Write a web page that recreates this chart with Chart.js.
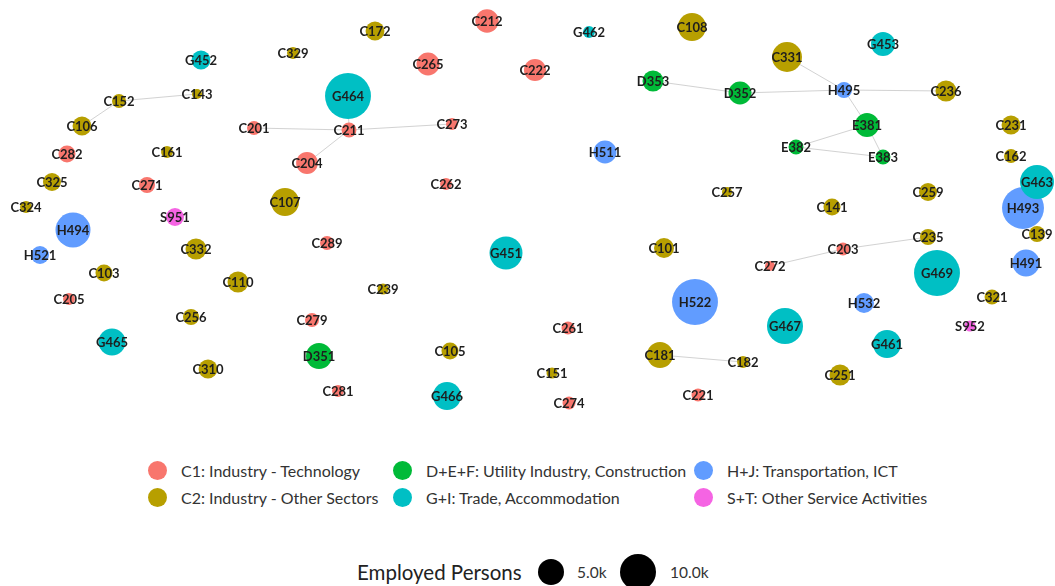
<!DOCTYPE html>
<html>
<head>
<meta charset="utf-8">
<script src="https://cdn.jsdelivr.net/npm/chart.js@4.4.1/dist/chart.umd.min.js"></script>
<style>
  html, body { margin: 0; padding: 0; background: #fff; }
  body { width: 1055px; height: 586px; position: relative; overflow: hidden; font-family: "Lato", "DejaVu Sans", sans-serif; }
  #wrap { position: absolute; left: 0; top: 0; width: 1055px; height: 430px; }
  .leg { position: absolute; font-size: 16px; color: #333; white-space: nowrap; line-height: 18px; }
  .dot { position: absolute; width: 19px; height: 19px; border-radius: 50%; }
  .sz { position: absolute; border-radius: 50%; background: #000; }
  .szt { position: absolute; font-size: 15.5px; color: #333; white-space: nowrap; }
</style>
</head>
<body>
<div id="wrap"><canvas id="c"></canvas></div>
<div id="legend"></div>
<script>
// ---- Data ----
const sectors = ["C1: Industry - Technology", "C2: Industry - Other Sectors", "D+E+F: Utility Industry, Construction", "G+I: Trade, Accommodation", "H+J: Transportation, ICT", "S+T: Other Service Activities"];
const sectorColors = ["#F8766D", "#B79F00", "#00BA38", "#00BFC4", "#619CFF", "#F564E3"];

const nodeIds = ["C212","C265","C222","C201","C211","C273","C204","C282","C271","C262","C289","C205","C279","C281","C261","C274","C221","C203","C272",
  "C329","C172","C152","C143","C106","C161","C325","C324","C107","C332","C103","C110","C256","C310","C239","C105","C151","C101","C181","C182","C251","C108","C331","C236","C231","C162","C257","C141","C259","C235","C139","C321",
  "D353","D352","E381","E382","E383","D351",
  "G452","G464","G462","G453","G463","G451","G465","G466","G467","G461","G469",
  "H494","H521","H511","H495","H493","H491","H522","H532",
  "S951","S952"];
const nodeSector = [0,0,0,0,0,0,0,0,0,0,0,0,0,0,0,0,0,0,0,
  1,1,1,1,1,1,1,1,1,1,1,1,1,1,1,1,1,1,1,1,1,1,1,1,1,1,1,1,1,1,1,1,
  2,2,2,2,2,2,
  3,3,3,3,3,3,3,3,3,3,3,
  4,4,4,4,4,4,4,4,
  5,5];
const layoutX = [487,428,535,254,349,452,307,67,147,446,327,69,312,338,568,569,698,843,770,
  293,375,119,197,82,167,52,26,285,196,104,238,191,208,383,450,552,664,660,743,840,692,787,946,1011,1011,727,832,928,928,1037,992,
  653,740,867,796,883,319,
  201,348,589,883,1037,506,112,447,785,887,937,
  73,40,605,844,1023,1026,695,864,
  175,970];
const layoutY = [21,64,70,128,130,124,163,154,185,184,243,299,320,391,328,403,395,249,266,
  53,31,101,94,126,152,182,207,202,249,273,282,317,369,289,351,373,248,355,362,375,27,57,91,125,156,192,207,192,237,234,297,
  81,93,125,147,157,356,
  60,96,32,44,182,253,342,396,326,344,273,
  230,255,152,90,208,263,302,303,
  217,326];
const employed = [4000,3900,3600,1450,1650,1050,3500,2150,1900,1050,1450,1050,1450,1050,1250,1250,1250,1250,750,
  1050,2650,1450,750,2650,1050,2400,1050,5800,3250,2150,3250,1900,2650,900,2150,900,2950,5000,1050,3250,5800,6650,3250,2650,1450,750,2150,2400,1900,1900,1650,
  3250,3900,4250,1650,1650,5000,
  2650,15600,1050,4250,8550,8050,5400,5800,9600,5800,15600,
  9050,2400,3900,1900,13000,5400,15600,2950,
  2400,900];

const edgeFrom = ["C152","C152","C201","C211","C211","C211","D353","D352","C331","H495","H495","E381","E381","E382","C272","C203","C181"];
const edgeTo   = ["C143","C106","C211","C204","C273","G464","D352","H495","H495","C236","E381","E382","E383","E383","C203","C235","C182"];

const sizeLegendValues = [5000, 10000];
const sizeLegendLabels = ["5.0k", "10.0k"];

// ---- Build ----
const radiusOf = v => 13 * Math.sqrt(v / 5000);
const idx = {};
nodeIds.forEach((n, i) => idx[n] = i);

const datasets = [];
edgeFrom.forEach((a, k) => {
  const i = idx[a], j = idx[edgeTo[k]];
  datasets.push({
    type: 'line',
    data: [{x: layoutX[i], y: layoutY[i]}, {x: layoutX[j], y: layoutY[j]}],
    borderColor: 'rgba(165,165,165,0.5)',
    borderWidth: 1,
    pointRadius: 0,
    order: 10
  });
});
sectors.forEach((s, g) => {
  const pts = [], labs = [];
  nodeIds.forEach((n, i) => {
    if (nodeSector[i] === g) {
      pts.push({x: layoutX[i], y: layoutY[i], r: radiusOf(employed[i])});
      labs.push(n);
    }
  });
  datasets.push({
    type: 'bubble',
    label: s,
    data: pts,
    nodeLabels: labs,
    backgroundColor: sectorColors[g],
    borderWidth: 0,
    order: 1
  });
});

const labelPlugin = {
  id: 'nodeLabels',
  afterDatasetsDraw(chart) {
    const ctx = chart.ctx;
    ctx.save();
    ctx.font = 'bold 13px "Lato", "DejaVu Sans", sans-serif';
    ctx.fillStyle = '#1e1e1e';
    ctx.textAlign = 'center';
    ctx.textBaseline = 'middle';
    chart.data.datasets.forEach((ds, di) => {
      if (!ds.nodeLabels) return;
      const meta = chart.getDatasetMeta(di);
      meta.data.forEach((el, k) => {
        ctx.fillText(ds.nodeLabels[k], el.x, el.y + 1);
      });
    });
    ctx.restore();
  }
};

new Chart(document.getElementById('c'), {
  type: 'bubble',
  data: { datasets },
  options: {
    responsive: true,
    maintainAspectRatio: false,
    animation: false,
    events: [],
    clip: false,
    layout: { padding: 0, autoPadding: false },
    plugins: { legend: { display: false }, tooltip: { enabled: false } },
    scales: {
      x: { type: 'linear', min: 0, max: 1055, display: false },
      y: { type: 'linear', min: 0, max: 430, reverse: true, display: false }
    }
  },
  plugins: [labelPlugin]
});

// ---- Legend (HTML) ----
const legend = document.getElementById('legend');
const colX = [148, 393, 694];
const rowY = [461, 488];
const legendOrder = [0, 2, 4, 1, 3, 5];
legendOrder.forEach((g, k) => {
  const col = k % 3, row = Math.floor(k / 3);
  const d = document.createElement('div');
  d.className = 'dot';
  d.style.left = colX[col] + 'px';
  d.style.top = rowY[row] + 'px';
  d.style.background = sectorColors[g];
  legend.appendChild(d);
  const t = document.createElement('div');
  t.className = 'leg';
  t.style.left = (colX[col] + 33) + 'px';
  t.style.top = (rowY[row] + 1) + 'px';
  t.textContent = sectors[g];
  legend.appendChild(t);
});
const title = document.createElement('div');
title.className = 'leg';
title.style.left = '357px';
title.style.top = '561px';
title.style.fontSize = '20.5px';
title.style.color = '#222';
title.style.lineHeight = '22px';
title.textContent = 'Employed Persons';
legend.appendChild(title);
const szX = [551, 638];
const szT = [577, 670];
sizeLegendValues.forEach((v, k) => {
  const r = radiusOf(v);
  const c = document.createElement('div');
  c.className = 'sz';
  c.style.left = (szX[k] - r) + 'px';
  c.style.top = (572 - r) + 'px';
  c.style.width = (2 * r) + 'px';
  c.style.height = (2 * r) + 'px';
  legend.appendChild(c);
  const t = document.createElement('div');
  t.className = 'szt';
  t.style.left = szT[k] + 'px';
  t.style.top = '563px';
  t.textContent = sizeLegendLabels[k];
  legend.appendChild(t);
});
</script>
</body>
</html>
